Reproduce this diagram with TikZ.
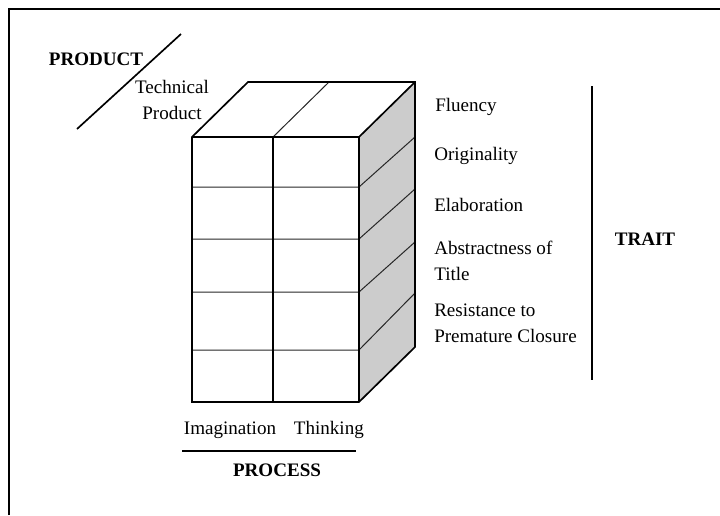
\documentclass[tikz,border=0pt]{standalone}
\usepackage{fontspec}
\setmainfont{Liberation Serif}
\usetikzlibrary{positioning}

\begin{document}
\begin{tikzpicture}[
    x=0.75pt, y=-0.75pt,
    every node/.style={font=\fontsize{14.3}{17}\selectfont, inner sep=0pt},
    trait/.style={anchor=west, align=left},
    dim/.style={font=\fontsize{14.3}{17}\selectfont\bfseries},
    outline/.style={draw=black, line width=1.25pt, line join=miter},
    thin line/.style={draw=black!85, line width=0.75pt},
    rule/.style={draw=black, line width=1.25pt}
]
\useasboundingbox (0,0) rectangle (720,515);

% frame
\coordinate (fa) at (9,515);
\coordinate (fb) at (9,9);
\coordinate (fc) at (720,9);
\draw[rule] (fa) -- (fb) -- (fc);

% cube corners
\coordinate (ftl) at (192,137);
\coordinate (ftm) at (273,137);
\coordinate (ftr) at (359,137);
\coordinate (fbl) at (192,402);
\coordinate (fbm) at (273,402);
\coordinate (fbr) at (359,402);
\coordinate (btl) at (248,82);
\coordinate (btm) at (329,82);
\coordinate (btr) at (415,82);
\coordinate (bbr) at (415,347);

\fill[black!20] (ftr) -- (btr) -- (bbr) -- (fbr) -- cycle;

% rows
\foreach \y/\b [count=\i] in {187/137, 239/189, 292/242, 350/293} {
    \coordinate (rl\i) at (192,\y);
    \coordinate (rm\i) at (359,\y);
    \coordinate (rr\i) at (415,\b);
    \draw[thin line] (rl\i) -- (rm\i) -- (rr\i);
}
\draw[thin line] (ftm) -- (btm);

\draw[outline] (ftl) -- (btl) -- (btr) -- (bbr) -- (fbr) -- (fbl) -- cycle;
\draw[outline] (ftl) -- (ftr) -- (fbr);
\draw[outline] (ftr) -- (btr);
\draw[outline] (ftm) -- (fbm);

% product
\coordinate (pa) at (77,129);
\coordinate (pb) at (181,34);
\draw[rule] (pa) -- (pb);
\node[dim] (product) at (96,59) {PRODUCT};
\node[align=center] (technical) at (172,100) {Technical\\[2.5pt]Product};

% process
\node (imagination) at (230,430) {Imagination};
\node[right=13pt of imagination] (thinking) {Thinking};
\coordinate (qa) at (182,451);
\coordinate (qb) at (356,451);
\draw[rule] (qa) -- (qb);
\node[dim] (process) at (277,470) {PROCESS};

% traits
\node[trait] (fluency) at (435,107) {Fluency};
\node[trait] (originality) at (434,156) {Originality};
\node[trait] (elaboration) at (434,205) {Elaboration};
\node[trait] (abstractness) at (434,261) {Abstractness of\\[2pt]Title};
\node[trait] (resistance) at (434,323) {Resistance to\\[2.5pt]Premature Closure};

\coordinate (ta) at (592,86);
\coordinate (tb) at (592,380);
\draw[rule] (ta) -- (tb);
\node[dim] (trait) at (645,239) {TRAIT};

\end{tikzpicture}
\end{document}
